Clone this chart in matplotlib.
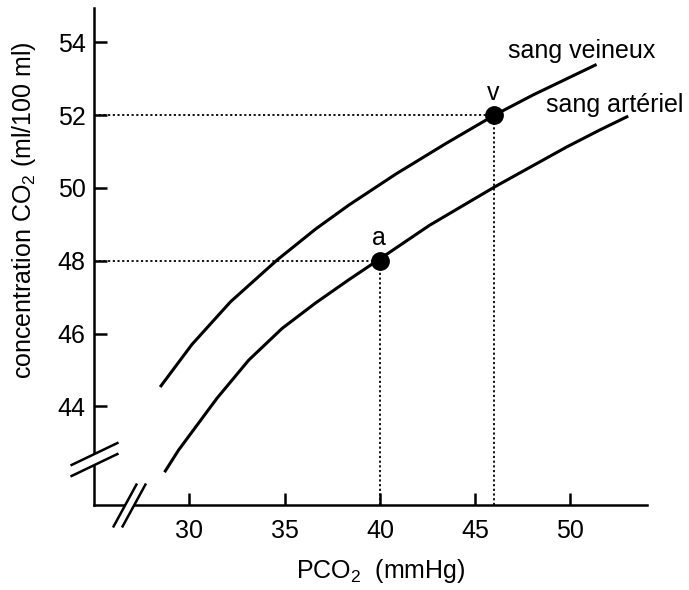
import numpy as np
import matplotlib
matplotlib.use("Agg")
import matplotlib.pyplot as plt
from matplotlib.path import Path

plt.rcParams['font.family'] = ['Liberation Sans', 'DejaVu Sans']
plt.rcParams['mathtext.fontset'] = 'custom'
plt.rcParams['mathtext.rm'] = 'Liberation Sans'
plt.rcParams['mathtext.it'] = 'Liberation Sans:italic'

# ---------------------------------------------------------
# Daten
# ---------------------------------------------------------
pco2_veineux = [28.47, 30.14, 32.16, 34.61, 36.63, 38.38, 40.84, 43.47, 46.02, 48.03, 51.37]
co2_veineux = [44.53, 45.70, 46.87, 48.02, 48.87, 49.53, 50.38, 51.22, 52.00, 52.55, 53.39]

pco2_arteriel = [28.70, 29.44, 31.45, 33.12, 34.87, 36.63, 38.38, 39.86, 42.6, 46.1, 49.79, 51.54, 53.03]
co2_arteriel = [42.19, 42.80, 44.22, 45.27, 46.14, 46.84, 47.48, 48.0, 48.97, 50.05, 51.12, 51.59, 51.97]

# Punkte a (arteriell) und v (venös)
point_labels = ["a", "v"]
point_pco2 = [40, 46]
point_co2 = [48, 52]

x_ticks = [30, 35, 40, 45, 50]
y_ticks = [44, 46, 48, 50, 52, 54]

x_break = 26.83
y_break = 42.56

# ---------------------------------------------------------
# Figur
# ---------------------------------------------------------
fig = plt.figure(figsize=(6.89, 5.90), dpi=100)
ax = fig.add_axes([94 / 689, 85 / 590, 552.7 / 689, 497 / 590])
ax.set_xlim(25, 54)
ax.set_ylim(41.29, 54.94)

for side in ["top", "right"]:
    ax.spines[side].set_visible(False)
for side in ["left", "bottom"]:
    ax.spines[side].set_linewidth(1.8)

ax.set_xticks(x_ticks)
ax.set_yticks(y_ticks)
ax.tick_params(direction='in', length=9, width=1.8, labelsize=18)
ax.tick_params(axis='x', pad=10)
ax.tick_params(axis='y', pad=6)

# Kurven
for xs, ys in [(pco2_veineux, co2_veineux), (pco2_arteriel, co2_arteriel)]:
    ax.plot(xs, ys, color='black', lw=2.2, solid_capstyle='butt', solid_joinstyle='round')

# gestrichelte Hilfslinien
x0, _ = ax.get_xlim()
y0, _ = ax.get_ylim()
dots = (0, (1.2, 1.4))
for px, py in zip(point_pco2, point_co2):
    ax.plot([x0, px], [py, py], color='black', lw=1.3, linestyle=dots)
    ax.plot([px, px], [y0, py], color='black', lw=1.3, linestyle=dots)

ax.plot(point_pco2, point_co2, 'o', color='black', ms=12.5, zorder=5)
for lbl, px, py in zip(point_labels, point_pco2, point_co2):
    ax.annotate(lbl, (px, py), xytext=(-1, 11), textcoords='offset points',
                ha='center', va='baseline', fontsize=18)

ax.text(46.7, 53.56, "sang veineux", fontsize=18, ha='left', va='baseline')
ax.text(48.74, 52.08, "sang artériel", fontsize=18, ha='left', va='baseline')

# Achsenunterbrechungen (//)
M, L = Path.MOVETO, Path.LINETO
ybrk_lines = Path([(-24, -17), (24, 6), (-24, -6), (24, 17)], [M, L, M, L])
ybrk_fill = Path([(-24, -17), (24, 6), (24, 17), (-24, -6), (-24, -17)], closed=True)
xbrk_lines = Path([(-16.5, -22), (7.5, 22), (-7.5, -22), (16.5, 22)], [M, L, M, L])
xbrk_fill = Path([(-16.5, -22), (-7.5, -22), (16.5, 22), (7.5, 22), (-16.5, -22)], closed=True)

ax.plot([x0], [y_break], marker=ybrk_fill, ms=2 * 24 * 0.72, mfc='white', mew=0,
        clip_on=False, zorder=6)
ax.plot([x0], [y_break], marker=ybrk_lines, ms=2 * 24 * 0.72, mfc='none', mec='black',
        mew=1.8, clip_on=False, zorder=7)
ax.plot([x_break], [y0], marker=xbrk_fill, ms=2 * 22 * 0.72, mfc='white', mew=0,
        clip_on=False, zorder=6)
ax.plot([x_break], [y0], marker=xbrk_lines, ms=2 * 22 * 0.72, mfc='none', mec='black',
        mew=1.8, clip_on=False, zorder=7)

ax.set_xlabel("PCO$_2$  (mmHg)", fontsize=18)
ax.xaxis.set_label_coords(0.519, -0.104)
fig.text(24 / 689, 1 - 210 / 590, "concentration CO$_2$ (ml/100 ml)", fontsize=18,
         rotation=90, ha='center', va='center')

fig.savefig("out.png", dpi=100)
